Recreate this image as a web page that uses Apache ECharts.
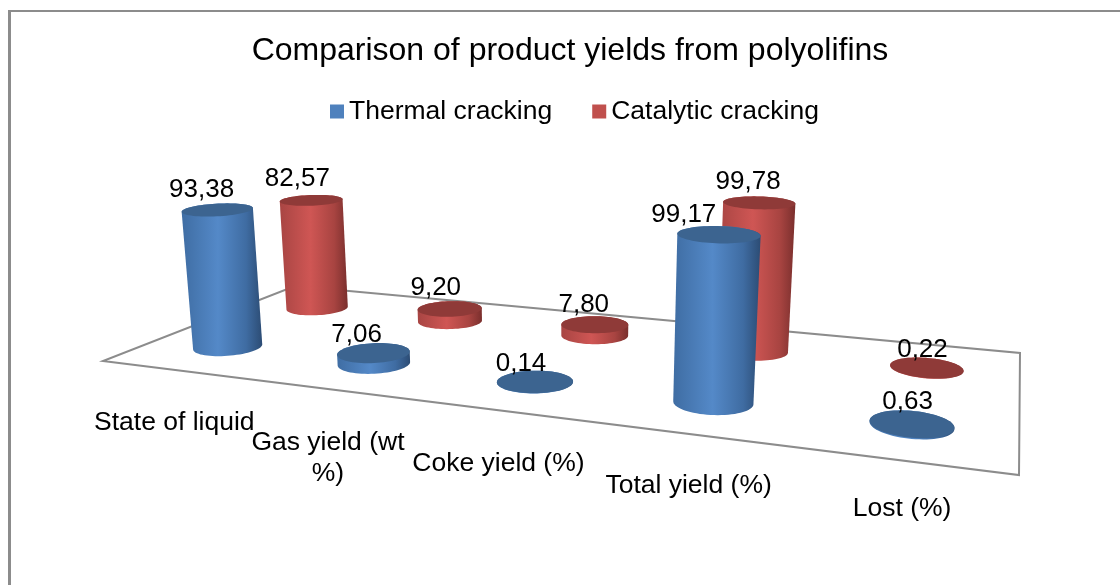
<!DOCTYPE html>
<html>
<head>
<meta charset="utf-8">
<style>html,body{margin:0;padding:0;background:#fff}#chart{width:1120px;height:585px}</style>
<script src="https://cdn.jsdelivr.net/npm/echarts@6/dist/echarts.min.js"></script>
</head>
<body>
<div id="chart"></div>
<script>
var categories = ['State of liquid', 'Gas yield (wt\n%)', 'Coke yield (%)', 'Total yield (%)', 'Lost (%)'];
var thermal = [93.38, 7.06, 0.14, 99.17, 0.63];
var catalytic = [82.57, 9.20, 7.80, 99.78, 0.22];

// label nudges from the top of each cylinder, px
var thermalShift = [[-16, -20], [-17, -18], [-14, -18], [-35, -20], [-4, -22]];
var catalyticShift = [[-14, -21], [-14, -21], [-11, -20], [-11, -21], [-4, -18]];
var categoryShift = [37, 38, 38, 36, 33];

// floor corners on screen: front left, front right, back right, back left
var floor = [[103, 361], [1019, 475], [1020, 353], [295, 286]];
var FAMILY = '"Liberation Sans", Arial, sans-serif';
var FONT = '26px ' + FAMILY;

// square -> quad projection, plus a vertical vanishing point for the height
var dx1 = floor[1][0] - floor[2][0], dx2 = floor[3][0] - floor[2][0];
var dy1 = floor[1][1] - floor[2][1], dy2 = floor[3][1] - floor[2][1];
var sx = floor[0][0] - floor[1][0] + floor[2][0] - floor[3][0];
var sy = floor[0][1] - floor[1][1] + floor[2][1] - floor[3][1];
var den = dx1 * dy2 - dx2 * dy1;
var G = (sx * dy2 - dx2 * sy) / den;
var H = (dx1 * sy - sx * dy1) / den;
var VX = 566, VY = 4800, K = -1 / 4450;
var RU = 0.05, RV = 0.125;

function depthW(u, v, t) {
    return 1 + G * u + H * v + K * t;
}

function project(u, v, t) {
    var w = depthW(u, v, t);
    var x = (floor[1][0] - floor[0][0] + G * floor[1][0]) * u + (floor[3][0] - floor[0][0] + H * floor[3][0]) * v + floor[0][0] + K * VX * t;
    var y = (floor[1][1] - floor[0][1] + G * floor[1][1]) * u + (floor[3][1] - floor[0][1] + H * floor[3][1]) * v + floor[0][1] + K * VY * t;
    return [x / w, y / w];
}

// projected disc, sized by its distance: half width 36px at w = 1
function circle(u, v, t) {
    var pts = [], minX = Infinity, maxX = -Infinity;
    var c = project(u, v, t);
    for (var i = 0; i < 72; i++) {
        var a = i / 72 * Math.PI * 2;
        var p = project(u + RU * Math.cos(a), v + RV * Math.sin(a), t);
        minX = Math.min(minX, p[0]);
        maxX = Math.max(maxX, p[0]);
        pts.push(p);
    }
    var k = (36 / depthW(u, v, t)) / ((maxX - minX) / 2);
    var ky = 0.8 + 0.12 * t / 148;
    return pts.map(function (p) { return [c[0] + (p[0] - c[0]) * k, c[1] + (p[1] - c[1]) * ky]; });
}

function hull(pts) {
    var p = pts.slice().sort(function (a, b) { return a[0] - b[0] || a[1] - b[1]; });
    function half(list) {
        var out = [];
        list.forEach(function (q) {
            while (out.length > 1) {
                var a = out[out.length - 2], b = out[out.length - 1];
                if ((b[0] - a[0]) * (q[1] - a[1]) - (b[1] - a[1]) * (q[0] - a[0]) <= 0) out.pop();
                else break;
            }
            out.push(q);
        });
        out.pop();
        return out;
    }
    return half(p).concat(half(p.slice().reverse()));
}

function cylinderSeries(name, values, depth, shift, legendColor, topColor, stops, z) {
    return {
        name: name,
        type: 'custom',
        z: z,
        itemStyle: { color: legendColor },
        data: values.map(function (v, i) { return [i, v]; }),
        encode: { x: 0, y: 1 },
        renderItem: function (params, api) {
            var i = api.value(0), val = api.value(1);
            var rect = params.coordSys;
            var u = (api.coord([i, 0])[0] - rect.x) / rect.width;
            var t = api.size([0, val])[1];
            var bottom = circle(u, depth, 0), top = circle(u, depth, t);
            var c = project(u, depth, t);
            return {
                type: 'group',
                children: [
                    {
                        type: 'polygon',
                        shape: { points: hull(bottom.concat(top)) },
                        style: { fill: new echarts.graphic.LinearGradient(0, 0, 1, 0, stops) }
                    },
                    { type: 'polygon', shape: { points: top }, style: { fill: topColor } },
                    {
                        type: 'text',
                        style: {
                            text: val.toFixed(2).replace('.', ','),
                            x: c[0] + shift[i][0],
                            y: c[1] + shift[i][1],
                            align: 'center',
                            verticalAlign: 'middle',
                            font: FONT,
                            fill: '#000'
                        }
                    }
                ]
            };
        }
    };
}

var myChart = echarts.init(document.getElementById('chart'));
var option = {
    animation: false,
    backgroundColor: '#fff',
    title: {
        text: 'Comparison of product yields from polyolifins',
        left: 565,
        top: 30,
        textAlign: 'center',
        textStyle: { color: '#000', fontWeight: 'normal', fontFamily: FAMILY, fontSize: 32 }
    },
    legend: {
        data: ['Thermal cracking', 'Catalytic cracking'],
        left: 330,
        top: 98,
        padding: 0,
        itemWidth: 14,
        itemHeight: 14,
        itemGap: 40,
        icon: 'rect',
        selectedMode: false,
        textStyle: { color: '#000', fontFamily: FAMILY, fontSize: 26.5 }
    },
    // hidden axes: the category scale gives the place along the floor, the value scale the height
    grid: { left: floor[0][0], width: floor[1][0] - floor[0][0], top: 150, height: 148 },
    xAxis: { type: 'category', data: categories, show: false },
    yAxis: { type: 'value', min: 0, max: 100, show: false },
    graphic: [
        { type: 'line', silent: true, shape: { x1: 9.5, y1: 10, x2: 9.5, y2: 585 }, style: { stroke: '#8c8c8c', lineWidth: 3 } },
        { type: 'line', silent: true, shape: { x1: 8, y1: 11, x2: 1120, y2: 11 }, style: { stroke: '#8c8c8c', lineWidth: 2 } }
    ],
    series: [
        {
            type: 'custom',
            name: 'floor',
            z: 1,
            silent: true,
            data: [[0, 0]],
            encode: { x: 0, y: 1 },
            renderItem: function () {
                return {
                    type: 'polygon',
                    shape: { points: [project(0, 0, 0), project(1, 0, 0), project(1, 1, 0), project(0, 1, 0)] },
                    style: { fill: '#fff', stroke: '#8c8c8c', lineWidth: 2 }
                };
            }
        },
        {
            type: 'custom',
            name: 'categories',
            z: 1,
            silent: true,
            data: categories.map(function (c, i) { return [i, 0]; }),
            encode: { x: 0, y: 1 },
            renderItem: function (params, api) {
                var i = api.value(0);
                var rect = params.coordSys;
                var p = project((api.coord([i, 0])[0] - rect.x) / rect.width, 0, 0);
                return {
                    type: 'text',
                    style: {
                        text: categories[i],
                        x: p[0],
                        y: p[1] + categoryShift[i],
                        align: 'center',
                        font: '26.5px ' + FAMILY,
                        lineHeight: 31,
                        fill: '#000'
                    }
                };
            }
        },
        cylinderSeries('Catalytic cracking', catalytic, 0.75, catalyticShift, '#c0504d', '#8f3a38', [
            { offset: 0, color: '#a84543' }, { offset: 0.45, color: '#cf5654' },
            { offset: 0.8, color: '#a84441' }, { offset: 1, color: '#7a2f2d' }
        ], 2),
        cylinderSeries('Thermal cracking', thermal, 0.25, thermalShift, '#4f81bd', '#3c6490', [
            { offset: 0, color: '#3f6da3' }, { offset: 0.45, color: '#5489c8' },
            { offset: 0.8, color: '#3f6ca2' }, { offset: 1, color: '#2c4c74' }
        ], 3)
    ]
};
myChart.setOption(option);
window.addEventListener('resize', function () { myChart.resize(); });
</script>
</body>
</html>
